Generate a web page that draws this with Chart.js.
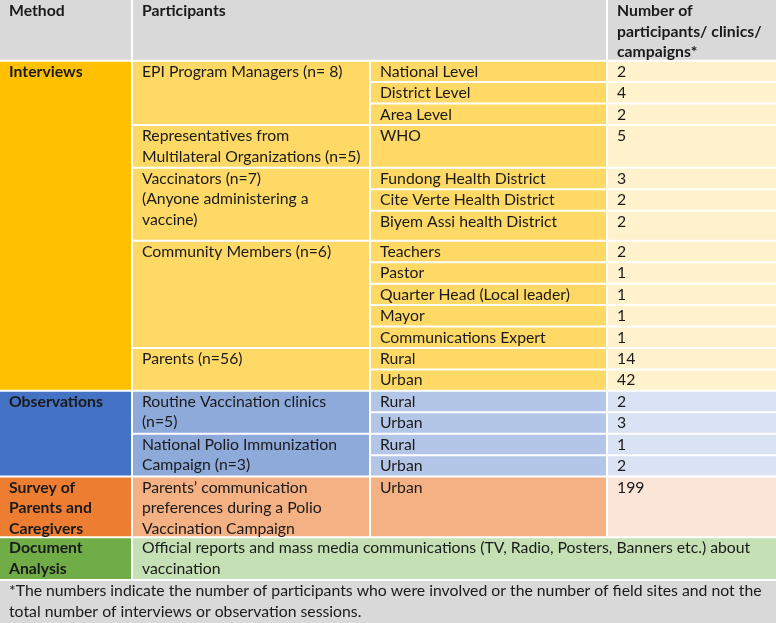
<!DOCTYPE html>
<html>
<head>
<meta charset="utf-8">
<script src="https://cdn.jsdelivr.net/npm/chart.js"></script>
<style>
  html, body { margin: 0; padding: 0; background: #fff; }
  #wrap { width: 776px; height: 623px; position: relative; }
</style>
</head>
<body>
<div id="wrap"><canvas id="table"></canvas></div>
<script>
// Table content
const headers = ["Method", "Participants", "Number of\nparticipants/ clinics/\ncampaigns*"];
const methods = ["Interviews", "Observations", "Survey of\nParents and\nCaregivers"];
const methodRowSpans = [14, 4, 1];
const groups = [
  "EPI Program Managers (n= 8)",
  "Representatives from\nMultilateral Organizations (n=5)",
  "Vaccinators (n=7)\n(Anyone administering a\nvaccine)",
  "Community Members (n=6)",
  "Parents (n=56)",
  "Routine Vaccination clinics\n(n=5)",
  "National Polio Immunization\nCampaign (n=3)",
  "Parents’ communication\npreferences during a Polio\nVaccination Campaign"
];
const groupRowSpans = [3, 1, 3, 5, 2, 2, 2, 1];
const subgroups = [
  "National Level", "District Level", "Area Level", "WHO",
  "Fundong Health District", "Cite Verte Health District", "Biyem Assi health District",
  "Teachers", "Pastor", "Quarter Head (Local leader)", "Mayor", "Communications Expert",
  "Rural", "Urban", "Rural", "Urban", "Rural", "Urban", "Urban"
];
const counts = [2, 4, 2, 5, 3, 2, 2, 2, 1, 1, 1, 1, 14, 42, 2, 3, 1, 2, 199];
const docMethod = "Document\nAnalysis";
const docText = "Official reports and mass media communications (TV, Radio, Posters, Banners etc.) about\nvaccination";
const footnote = "*The numbers indicate the number of participants who were involved or the number of field sites and not the\ntotal number of interviews or observation sessions.";

// Layout (table units)
const colEdges = [0, 132, 370, 607, 776];
const headerLines = 2.83;
const rowLines = [1, 1, 1, 2, 1, 1, 1.4, 1, 1, 1, 1, 1, 1, 1, 1, 1, 1, 1, 2.83];
const docLines = 2;
const footLines = 2;

// Colours: method, group, subgroup, count
const palette = [
  ["#ffc000", "#ffd966", "#ffd966", "#fff2cc"],
  ["#4472c4", "#8eaadb", "#b4c6e7", "#dae3f3"],
  ["#ed7d31", "#f4b183", "#f4b183", "#fbe5d6"]
];
const docColors = ["#70ad47", "#c5e0b4"];
const greyFill = "#d9d9d9";
const textColor = "#1a1a1a";

const totalLines = headerLines + rowLines.reduce((a, b) => a + b, 0) + docLines + footLines;

// pick a font size that gives the footnote its original width
const probe = document.createElement("canvas").getContext("2d");
probe.font = "100px Lato";
const fontSize = 100 * 753 / probe.measureText(footnote.split("\n")[0]).width;

const tablePlugin = {
  id: "tableCells",
  beforeDraw(chart) {
    const { ctx, scales: { x, y } } = chart;
    const cells = [];
    const add = (c0, c1, r0, r1, fill, text, bold) =>
      cells.push({ c0, c1, r0, r1, fill, text, bold });

    // header
    add(colEdges[0], colEdges[1], 0, headerLines, greyFill, headers[0], true);
    add(colEdges[1], colEdges[3], 0, headerLines, greyFill, headers[1], true);
    add(colEdges[3], colEdges[4], 0, headerLines, greyFill, headers[2], true);

    // row tops
    const tops = [];
    let acc = headerLines;
    rowLines.forEach((h) => { tops.push(acc); acc += h; });
    tops.push(acc);

    // methods
    let r = 0;
    methods.forEach((m, i) => {
      add(colEdges[0], colEdges[1], tops[r], tops[r + methodRowSpans[i]], palette[i][0], m, true);
      r += methodRowSpans[i];
    });

    // groups
    r = 0;
    const methodOfRow = [];
    methodRowSpans.forEach((s, i) => { for (let k = 0; k < s; k++) methodOfRow.push(i); });
    groups.forEach((g, i) => {
      add(colEdges[1], colEdges[2], tops[r], tops[r + groupRowSpans[i]], palette[methodOfRow[r]][1], g, false);
      r += groupRowSpans[i];
    });

    // subgroups and counts
    subgroups.forEach((s, i) => {
      const p = palette[methodOfRow[i]];
      add(colEdges[2], colEdges[3], tops[i], tops[i + 1], p[2], s, false);
      add(colEdges[3], colEdges[4], tops[i], tops[i + 1], p[3], String(counts[i]), false);
    });

    // document analysis
    const docTop = tops[tops.length - 1];
    add(colEdges[0], colEdges[1], docTop, docTop + docLines, docColors[0], docMethod, true);
    add(colEdges[1], colEdges[4], docTop, docTop + docLines, docColors[1], docText, false);

    // footnote
    add(colEdges[0], colEdges[4], docTop + docLines, totalLines, greyFill, footnote, false);

    ctx.save();
    ctx.fillStyle = "#ffffff";
    ctx.fillRect(0, 0, chart.width, chart.height);

    cells.forEach((c) => {
      const x0 = x.getPixelForValue(c.c0), x1 = x.getPixelForValue(c.c1);
      const y0 = y.getPixelForValue(c.r0), y1 = y.getPixelForValue(c.r1);
      ctx.fillStyle = c.fill;
      ctx.fillRect(x0, y0, x1 - x0, y1 - y0);
    });

    // white borders between cells
    ctx.strokeStyle = "#ffffff";
    ctx.lineWidth = 2;
    cells.forEach((c) => {
      const x0 = x.getPixelForValue(c.c0), x1 = x.getPixelForValue(c.c1);
      const y0 = y.getPixelForValue(c.r0), y1 = y.getPixelForValue(c.r1);
      ctx.beginPath();
      if (c.r0 > 0) { ctx.moveTo(x0, y0); ctx.lineTo(x1, y0); }
      if (c.c0 > 0) { ctx.moveTo(x0, y0); ctx.lineTo(x0, y1); }
      ctx.stroke();
    });

    // texts
    ctx.fillStyle = textColor;
    ctx.textBaseline = "middle";
    ctx.textAlign = "left";
    cells.forEach((c) => {
      const x0 = x.getPixelForValue(c.c0);
      const y0 = y.getPixelForValue(c.r0);
      ctx.font = (c.bold ? "bold " : "") + fontSize.toFixed(2) + "px Lato";
      const pad = c.c0 === 0 ? 9 : 10;
      c.text.split("\n").forEach((line, i) => {
        ctx.fillText(line, x0 + pad, y0 + 11 + i * 20.5);
      });
    });
    ctx.restore();
  }
};

new Chart(document.getElementById("table"), {
  type: "scatter",
  data: { datasets: [{ data: [] }] },
  options: {
    responsive: true,
    maintainAspectRatio: false,
    animation: false,
    layout: { padding: 0 },
    plugins: { legend: { display: false }, tooltip: { enabled: false } },
    scales: {
      x: { type: "linear", min: colEdges[0], max: colEdges[colEdges.length - 1], display: false },
      y: { type: "linear", min: 0, max: totalLines, reverse: true, display: false }
    }
  },
  plugins: [tablePlugin]
});
</script>
</body>
</html>
